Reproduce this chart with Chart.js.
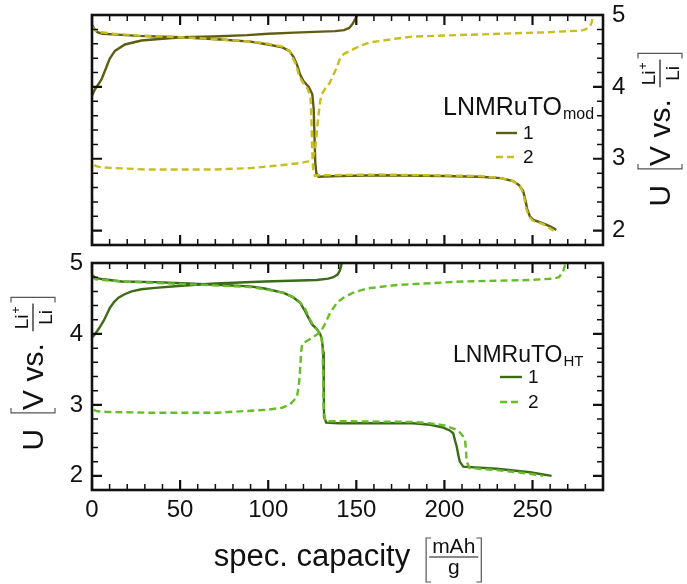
<!DOCTYPE html>
<html>
<head>
<meta charset="utf-8">
<script src="https://cdn.jsdelivr.net/npm/chart.js@4/dist/chart.umd.min.js"></script>
<style>
  html, body { margin: 0; padding: 0; background: #ffffff; }
  #wrap { position: relative; width: 687px; height: 584px; }
  canvas { position: absolute; left: 0; display: block; }
</style>
</head>
<body>
<div id="wrap">
  <canvas id="panelMod" width="687" height="250" style="top:0px"></canvas>
  <canvas id="panelHT" width="687" height="334" style="top:250px"></canvas>
</div>
<script>
// ---- axis ticks -------------------------------------------------------
const xTickValues = [0, 50, 100, 150, 200, 250];
const yTickValues = [2, 3, 4, 5];
const xRange = [0, 290];
const yRange = [1.8, 5];

// ---- LNMRuTO_mod : [capacity mAh/g, voltage V] ------------------------
const modCycle1Charge = [
  [0, 3.88], [1.8, 3.97], [4, 4.05], [5.5, 4.11], [8.1, 4.27], [10, 4.39], [13, 4.5],
  [18.7, 4.59], [28, 4.645], [40, 4.67], [51, 4.69], [69, 4.7], [88, 4.72], [100, 4.74],
  [115, 4.755], [126, 4.765], [138, 4.775], [143, 4.79], [146, 4.82], [148, 4.88],
  [149.5, 4.95], [150.5, 5.0]
];
const modCycle1Discharge = [
  [0, 4.86], [1.5, 4.8], [3, 4.76], [6, 4.74], [12, 4.73], [26, 4.71], [51, 4.69],
  [73, 4.66], [90, 4.63], [100, 4.59], [108, 4.55], [112, 4.5], [114.5, 4.41],
  [116.5, 4.3], [118, 4.18], [120, 4.08], [123, 4.0], [125, 3.9], [125.8, 3.7],
  [126.3, 3.3], [126.7, 2.95], [127.3, 2.8], [128.5, 2.75], [140, 2.76], [163, 2.77],
  [200, 2.76], [220, 2.75], [232, 2.73], [239, 2.69], [242.5, 2.63], [244.7, 2.55],
  [246, 2.42], [247, 2.3], [248.5, 2.2], [250.5, 2.15], [256, 2.1], [260, 2.06], [263.5, 2.01]
];
const modCycle2Charge = [
  [0, 2.25], [0, 2.96], [2, 2.9], [5, 2.88], [31, 2.85], [69, 2.85], [90, 2.87],
  [107, 2.91], [118, 2.94], [124, 2.97], [125.5, 3.02], [126.6, 3.13], [127.5, 3.35],
  [128.5, 3.6], [129.5, 3.8], [130.4, 3.9], [132.5, 3.98], [135, 4.06], [138, 4.22],
  [140.7, 4.39], [143, 4.46], [146.4, 4.5], [152, 4.57], [157.7, 4.62], [164, 4.64],
  [172, 4.67], [182, 4.7], [220, 4.73], [258, 4.76], [275, 4.78], [279, 4.79],
  [282.4, 4.83], [283.6, 4.9], [284.3, 5.0]
];
const modCycle2Discharge = [
  [0, 4.84], [2, 4.78], [5, 4.76], [12, 4.74], [26, 4.715], [51, 4.69], [73, 4.66],
  [90, 4.63], [100, 4.6], [108, 4.56], [112, 4.5], [114, 4.4], [116, 4.3], [117.5, 4.15],
  [120, 4.05], [122.5, 3.97], [124, 3.85], [124.6, 3.5], [125, 3.1], [125.5, 2.85],
  [126.5, 2.76], [128, 2.77], [163, 2.78], [220, 2.76], [232, 2.73], [239, 2.69],
  [243, 2.62], [245, 2.5], [246.5, 2.3], [248, 2.2], [250, 2.14], [256, 2.09], [262, 2.0]
];

// ---- LNMRuTO_HT : [capacity mAh/g, voltage V] -------------------------
const htCycle1Charge = [
  [0, 3.95], [1.5, 3.99], [4, 4.08], [6.5, 4.18], [8.5, 4.28], [10.2, 4.37], [12.5, 4.45],
  [15, 4.51], [18.5, 4.56], [22.5, 4.6], [28, 4.63], [35.8, 4.65], [50.9, 4.68],
  [69.8, 4.71], [98, 4.74], [127.6, 4.76], [134, 4.78], [137, 4.8], [139.5, 4.84],
  [140.8, 4.9], [141.8, 5.0]
];
const htCycle1Discharge = [
  [0, 4.83], [2, 4.79], [6.5, 4.77], [16.8, 4.74], [35.8, 4.73], [54.6, 4.71], [73.5, 4.69],
  [89.8, 4.67], [98, 4.64], [108.7, 4.58], [114, 4.52], [118.1, 4.44], [120.5, 4.34],
  [122.8, 4.23], [125, 4.13], [127.6, 4.07], [129.5, 4.0], [130.4, 3.93], [131.2, 3.75],
  [131.5, 3.3], [131.7, 2.83], [132.9, 2.75], [140, 2.74], [182, 2.74], [192, 2.72],
  [199.4, 2.68], [203, 2.64], [205, 2.6], [206, 2.5], [206.9, 2.42], [208, 2.28],
  [208.7, 2.2], [210.7, 2.13], [229.6, 2.1], [248.6, 2.05], [260.8, 2.0]
];
const htCycle2Charge = [
  [0, 2.5], [0, 2.94], [3, 2.91], [8.5, 2.9], [33, 2.89], [71, 2.89], [99, 2.93],
  [108, 2.96], [112.5, 3.01], [116.3, 3.11], [117.5, 3.3], [118.1, 3.5], [118.7, 3.75],
  [119.3, 3.86], [123.8, 3.93], [129.5, 4.02], [132, 4.13], [135.2, 4.3], [139, 4.44],
  [142.7, 4.51], [148, 4.58], [156, 4.64], [172.8, 4.69], [210.6, 4.74], [248.6, 4.76],
  [262, 4.78], [265, 4.8], [267.4, 4.88], [268.4, 4.97], [268.6, 5.0]
];
const htCycle2Discharge = [
  [0, 4.81], [2, 4.77], [6.5, 4.76], [16.8, 4.74], [35.8, 4.72], [54.6, 4.7], [73.5, 4.68],
  [89.8, 4.66], [98, 4.63], [108.7, 4.58], [114, 4.52], [118, 4.45], [121, 4.35],
  [123, 4.24], [125.5, 4.12], [128, 4.05], [130, 3.97], [130.8, 3.85], [131.2, 3.4],
  [131.5, 2.9], [132.5, 2.77], [140, 2.77], [182, 2.76], [192, 2.74], [200, 2.71],
  [206, 2.66], [208.8, 2.61], [210.5, 2.56], [211.7, 2.5], [212.3, 2.35], [212.6, 2.2],
  [214.3, 2.11], [229.6, 2.08], [245, 2.04], [256, 2.0]
];

const FONT = '"Liberation Sans", Arial, Helvetica, sans-serif';
const INK = '#111111';

// charge and discharge of one cycle as a single line, broken between them
function cycleData(charge, discharge) {
  const pts = charge.map(([x, y]) => ({ x, y }));
  pts.push({ x: charge[charge.length - 1][0], y: null });
  discharge.forEach(([x, y]) => pts.push({ x, y }));
  return pts;
}

function cycleDataset(label, charge, discharge, color, dashed) {
  return {
    label,
    data: cycleData(charge, discharge),
    borderColor: color,
    backgroundColor: color,
    borderWidth: 2.4,
    borderDash: dashed ? [7, 4] : [],
    pointRadius: 0,
    tension: 0,
    spanGaps: false,
    fill: false,
    order: dashed ? 0 : 1
  };
}

// closed frame with inward major/minor ticks on all four sides
const frameTicks = {
  id: 'frameTicks',
  afterDatasetsDraw(chart) {
    const { ctx, chartArea: a, scales: { x, y } } = chart;
    ctx.save();
    ctx.strokeStyle = INK;
    ctx.lineCap = 'butt';
    for (let i = 0; i <= 29; i++) {
      const v = i * 10;
      const px = x.getPixelForValue(v);
      const major = v % 50 === 0;
      const len = major ? 10 : 6;
      ctx.lineWidth = major ? 2.2 : 1.5;
      ctx.beginPath();
      ctx.moveTo(px, a.bottom); ctx.lineTo(px, a.bottom - len);
      ctx.moveTo(px, a.top); ctx.lineTo(px, a.top + len);
      ctx.stroke();
    }
    for (let i = 0; i <= 16; i++) {
      const v = 1.8 + i * 0.2;
      const py = y.getPixelForValue(v);
      const major = Math.abs(v - Math.round(v)) < 1e-6;
      const len = major ? 10 : 6;
      ctx.lineWidth = major ? 2.2 : 1.5;
      ctx.beginPath();
      ctx.moveTo(a.left, py); ctx.lineTo(a.left + len, py);
      ctx.moveTo(a.right, py); ctx.lineTo(a.right - len, py);
      ctx.stroke();
    }
    ctx.lineWidth = 2.6;
    ctx.strokeRect(a.left, a.top, a.right - a.left, a.bottom - a.top);
    ctx.restore();
  }
};

// thin square bracket drawn along the local x axis
function bracket(ctx, x, top, bottom, open) {
  const w = 5;
  ctx.beginPath();
  if (open) {
    ctx.moveTo(x + w, top); ctx.lineTo(x, top); ctx.lineTo(x, bottom); ctx.lineTo(x + w, bottom);
  } else {
    ctx.moveTo(x - w, top); ctx.lineTo(x, top); ctx.lineTo(x, bottom); ctx.lineTo(x - w, bottom);
  }
  ctx.stroke();
}

// "U [V vs. Li+/Li]" rotated to read upward, baseline at page x = bx
function drawVoltTitle(ctx, bx, cy) {
  ctx.save();
  ctx.translate(bx, cy);
  ctx.rotate(-Math.PI / 2);
  ctx.fillStyle = INK;
  ctx.textBaseline = 'alphabetic';
  ctx.textAlign = 'left';
  const big = '30px ' + FONT, small = '19px ' + FONT, sup = '12px ' + FONT;
  ctx.font = big;
  const wU = ctx.measureText('U').width;
  const wV = ctx.measureText('V vs.').width;
  ctx.font = small;
  const wLi = ctx.measureText('Li').width;
  ctx.font = sup;
  const wPlus = ctx.measureText('+').width;
  const fracW = wLi + wPlus + 6;
  const total = wU + 16 + 3 + wV + 12 + fracW + 6;
  let x = -total / 2;
  ctx.font = big;
  ctx.fillText('U', x, 0);
  x += wU + 16;
  ctx.strokeStyle = '#555';
  ctx.lineWidth = 1.2;
  bracket(ctx, x, -32, 12, true);
  x += 3;
  ctx.fillText('V vs.', x, 0);
  x += wV + 12;
  ctx.font = small;
  ctx.fillText('Li', x + 2, -15);
  ctx.font = sup;
  ctx.fillText('+', x + 2 + wLi + 1, -23);
  ctx.font = small;
  ctx.fillText('Li', x + (fracW - wLi) / 2, 9);
  ctx.strokeStyle = INK;
  ctx.lineWidth = 1.2;
  ctx.beginPath();
  ctx.moveTo(x, -10); ctx.lineTo(x + fracW, -10);
  ctx.stroke();
  x += fracW + 6;
  ctx.strokeStyle = '#555';
  bracket(ctx, x, -32, 12, false);
  ctx.restore();
}

// legend block: material name with subscript, then one entry per dataset
function drawLegend(chart, o) {
  const ctx = chart.ctx;
  ctx.save();
  ctx.fillStyle = INK;
  ctx.textAlign = 'left';
  ctx.textBaseline = 'alphabetic';
  ctx.font = o.titleSize + 'px ' + FONT;
  ctx.fillText(o.name, o.x, o.y);
  const w = ctx.measureText(o.name).width;
  ctx.font = o.subSize + 'px ' + FONT;
  ctx.fillText(o.sub, o.x + w + 1, o.y + 4);
  chart.data.datasets.forEach((ds, i) => {
    const ly = o.entryY[i];
    ctx.strokeStyle = ds.borderColor;
    ctx.lineWidth = 2.4;
    ctx.setLineDash(ds.borderDash || []);
    ctx.beginPath();
    ctx.moveTo(o.lineX0, ly); ctx.lineTo(o.lineX1, ly);
    ctx.stroke();
    ctx.setLineDash([]);
    ctx.fillStyle = INK;
    ctx.font = o.entrySize + 'px ' + FONT;
    ctx.textBaseline = 'middle';
    ctx.fillText(ds.label, o.lineX1 + 6, ly + 1);
    ctx.textBaseline = 'alphabetic';
  });
  ctx.restore();
}

function noPadding(s) {
  s.paddingTop = 0; s.paddingBottom = 0; s.paddingLeft = 0; s.paddingRight = 0;
}

function baseScales(yPos, showX, xHeight, yWidth) {
  return {
    x: {
      type: 'linear', min: xRange[0], max: xRange[1],
      afterBuildTicks: s => { s.ticks = xTickValues.map(v => ({ value: v })); },
      afterFit: s => { s.height = xHeight; noPadding(s); },
      grid: { display: false, drawTicks: false },
      border: { display: false },
      ticks: { display: showX, padding: 6, color: INK, font: { family: FONT, size: 24 } }
    },
    y: {
      type: 'linear', position: yPos, min: yRange[0], max: yRange[1],
      afterBuildTicks: s => { s.ticks = yTickValues.map(v => ({ value: v })); },
      afterFit: s => { s.width = yWidth; noPadding(s); },
      grid: { display: false, drawTicks: false },
      border: { display: false },
      ticks: { padding: 9, color: INK, font: { family: FONT, size: 24 } }
    }
  };
}

const commonPlugins = { legend: { display: false }, tooltip: { enabled: false } };

// upper panel: LNMRuTO_mod, voltage axis on the right
new Chart(document.getElementById('panelMod'), {
  type: 'line',
  data: {
    datasets: [
      cycleDataset('1', modCycle1Charge, modCycle1Discharge, '#5f5d14', false),
      cycleDataset('2', modCycle2Charge, modCycle2Discharge, '#c9be1f', true)
    ]
  },
  options: {
    responsive: false, animation: false,
    layout: { padding: { left: 92, top: 15, right: 0, bottom: 5 } },
    scales: baseScales('right', false, 0, 84),
    plugins: commonPlugins
  },
  plugins: [frameTicks, {
    id: 'modDecor',
    afterDraw(chart) {
      drawVoltTitle(chart.ctx, 670, 130);
      drawLegend(chart, {
        name: 'LNMRuTO', sub: 'mod', x: 443, y: 115, titleSize: 25, subSize: 16,
        entrySize: 19, lineX0: 496, lineX1: 517, entryY: [133, 157]
      });
    }
  }]
});

// lower panel: LNMRuTO_HT, voltage axis on the left, capacity labels below
new Chart(document.getElementById('panelHT'), {
  type: 'line',
  data: {
    datasets: [
      cycleDataset('1', htCycle1Charge, htCycle1Discharge, '#3c6b17', false),
      cycleDataset('2', htCycle2Charge, htCycle2Discharge, '#67bd27', true)
    ]
  },
  options: {
    responsive: false, animation: false,
    layout: { padding: { left: 0, top: 13, right: 84, bottom: 0 } },
    scales: baseScales('left', true, 94, 92),
    plugins: commonPlugins
  },
  plugins: [frameTicks, {
    id: 'htDecor',
    afterDraw(chart) {
      const ctx = chart.ctx;
      drawVoltTitle(ctx, 43, 124);
      drawLegend(chart, {
        name: 'LNMRuTO', sub: 'HT', x: 453, y: 112, titleSize: 23, subSize: 15,
        entrySize: 19, lineX0: 500, lineX1: 522, entryY: [127, 152]
      });
      // capacity title with mAh/g fraction in brackets
      const a = chart.chartArea;
      const cx = (a.left + a.right) / 2;
      ctx.save();
      ctx.fillStyle = INK;
      ctx.textBaseline = 'alphabetic';
      ctx.textAlign = 'left';
      const big = '31px ' + FONT, small = '21px ' + FONT;
      ctx.font = big;
      const main = 'spec. capacity';
      const wMain = ctx.measureText(main).width;
      ctx.font = small;
      const wFrac = ctx.measureText('mAh').width + 6;
      const total = wMain + 16 + 3 + wFrac + 3;
      let x = cx - total / 2;
      const base = 316;
      ctx.font = big;
      ctx.fillText(main, x, base);
      x += wMain + 16;
      ctx.strokeStyle = '#555';
      ctx.lineWidth = 1.2;
      ctx.beginPath();
      ctx.moveTo(x + 5, base - 28); ctx.lineTo(x, base - 28); ctx.lineTo(x, base + 16); ctx.lineTo(x + 5, base + 16);
      ctx.stroke();
      x += 3;
      ctx.font = small;
      ctx.textAlign = 'center';
      ctx.fillText('mAh', x + wFrac / 2, base - 13);
      ctx.fillText('g', x + wFrac / 2, base + 8);
      ctx.strokeStyle = INK;
      ctx.beginPath();
      ctx.moveTo(x, base - 9); ctx.lineTo(x + wFrac, base - 9);
      ctx.stroke();
      x += wFrac + 3;
      ctx.strokeStyle = '#555';
      ctx.beginPath();
      ctx.moveTo(x - 5, base - 28); ctx.lineTo(x, base - 28); ctx.lineTo(x, base + 16); ctx.lineTo(x - 5, base + 16);
      ctx.stroke();
      ctx.restore();
    }
  }]
});
</script>
</body>
</html>
